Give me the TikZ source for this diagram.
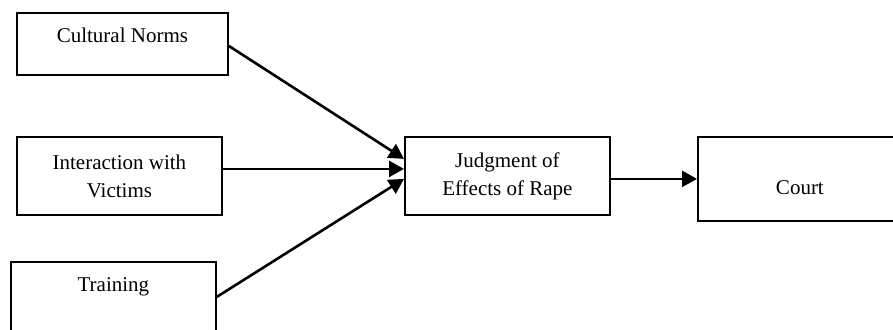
\documentclass[tikz,border=0pt]{standalone}
\usepackage{fontspec}
\setmainfont{Liberation Serif}
\usetikzlibrary{arrows.meta}

\tikzset{
	factor/.style={draw, line width=1.8pt, anchor=north west, align=center, inner sep=0pt,
		font=\fontsize{21}{28}\selectfont},
	link/.style={line width=2.6pt, -{Triangle[length=15pt,width=16pt]}}
}

\begin{document}
\begin{tikzpicture}[x=1pt,y=-1pt]
\useasboundingbox (0,0) rectangle (893,329);
	\node[factor, minimum width=211pt, minimum height=62pt, text height=15pt, text depth=17pt] (norms) at (16,12) {Cultural Norms};
	\node[factor, minimum width=205pt, minimum height=78pt] (victims) at (16,136) {Interaction with\\Victims};
	\node[factor, minimum width=205pt, minimum height=78pt, text height=15pt, text depth=33pt] (training) at (10,261) {Training};
	\node[factor, minimum width=205pt, minimum height=78pt] (judgment) at (404,136) {Judgment of\\Effects of Rape};
	\node[factor, minimum width=204pt, minimum height=84pt, text height=32pt, text depth=0pt] (court) at (697,136) {Court};

	\draw[link] ([yshift=-2pt]norms.east) -- ([yshift=17pt]judgment.west);
	\draw[link] ([yshift=7pt]victims.east) -- ([yshift=7pt]judgment.west);
	\draw[link] ([yshift=4pt]training.east) -- ([yshift=-3pt]judgment.west);
	\draw[link] ([yshift=-3pt]judgment.east) -- (court.west);
\end{tikzpicture}
\end{document}
